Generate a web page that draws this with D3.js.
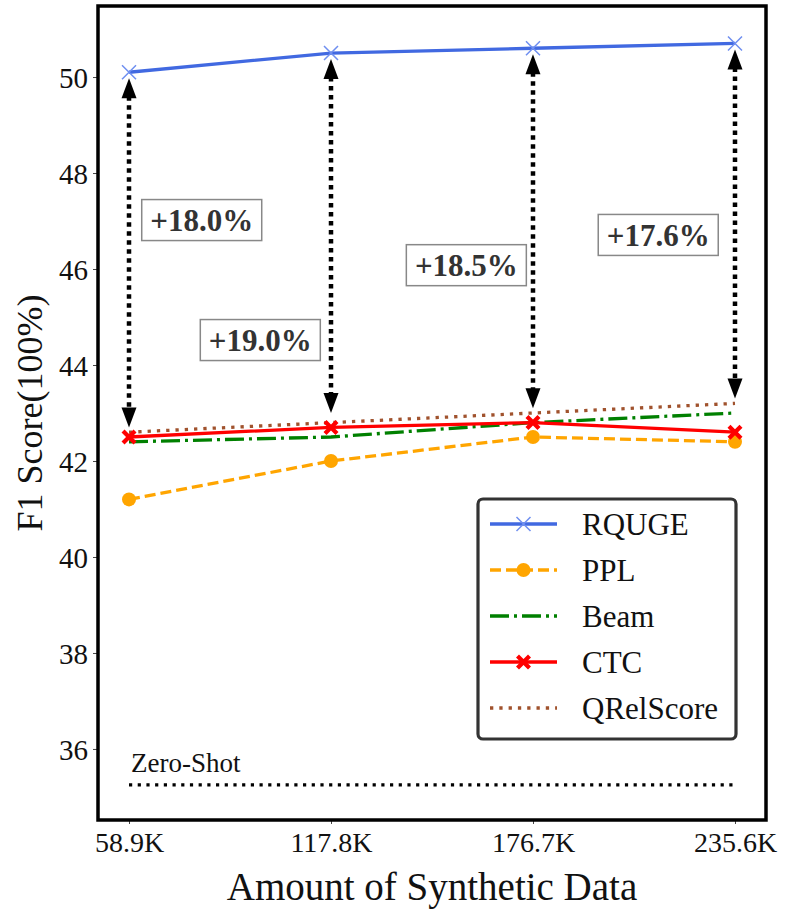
<!DOCTYPE html>
<html>
<head>
<meta charset="utf-8">
<script src="https://cdn.jsdelivr.net/npm/d3@7"></script>
<style>
  body { margin: 0; background: #fff; }
  text { font-family: "Liberation Serif", "Times New Roman", serif; }
</style>
</head>
<body>
<script>
// Data
var sizes = ["58.9K", "117.8K", "176.7K", "235.6K"];
var rquge = [50.1, 50.5, 50.6, 50.7];
var ppl = [41.2, 42.0, 42.5, 42.4];
var beam = [42.4, 42.5, 42.8, 43.0];
var ctc = [42.5, 42.7, 42.8, 42.6];
var qrel = [42.6, 42.8, 43.0, 43.2];
var zeroShot = 35.25;
var yTicks = [36, 38, 40, 42, 44, 46, 48, 50];
// arrow bottom tips and the gain labels
var arrowLow = [42.7, 43.0, 43.1, 43.3];
var gains = ["+18.0%", "+19.0%", "+18.5%", "+17.6%"];
var gainX = [0.36, 0.65, 1.67, 2.62];
var gainY = [47.02, 44.52, 46.08, 46.71];

var svgWidth = 789;
var svgHeight = 919;

var frame = { left: 98, right: 766, top: 6, bottom: 820 };

var svg = d3.select("body")
  .append("svg")
  .attr("width", svgWidth)
  .attr("height", svgHeight);

var x = d3.scaleLinear()
  .domain([-0.1535, 3.1535])
  .range([frame.left, frame.right]);

var y = d3.scaleLinear()
  .domain([34.52, 51.48])
  .range([frame.bottom, frame.top]);

// Axes
var xAxis = d3.axisBottom(x)
  .tickValues([0, 1, 2, 3])
  .tickFormat((d, i) => sizes[i])
  .tickSize(4)
  .tickPadding(6);

var yAxis = d3.axisLeft(y)
  .tickValues(yTicks)
  .tickSize(5)
  .tickPadding(5);

var gx = svg.append("g")
  .attr("transform", `translate(0, ${frame.bottom})`)
  .call(xAxis);
gx.select(".domain").remove();
gx.selectAll("line").attr("stroke", "#444").attr("stroke-width", 1);
gx.selectAll("text")
  .attr("fill", "#111")
  .style("font-size", "28px")
  .attr("dy", "0.78em");

var gy = svg.append("g")
  .attr("transform", `translate(${frame.left}, 0)`)
  .call(yAxis);
gy.select(".domain").remove();
gy.selectAll("line").attr("stroke", "#444").attr("stroke-width", 1);
gy.selectAll("text")
  .attr("fill", "#111")
  .style("font-size", "29px")
  .attr("dy", "0.36em");

// Zero-shot reference line
svg.append("line")
  .attr("x1", x(0)).attr("x2", x(3))
  .attr("y1", y(zeroShot)).attr("y2", y(zeroShot))
  .attr("stroke", "#000")
  .attr("stroke-width", 3.2)
  .attr("stroke-dasharray", "3.2,5.5");

svg.append("text")
  .attr("x", x(0) + 2)
  .attr("y", y(zeroShot) - 13)
  .style("font-size", "27px")
  .attr("fill", "#111")
  .text("Zero-Shot");

// Lines
var line = d3.line()
  .x((d, i) => x(i))
  .y(d => y(d));

function crossX(s) {
  // filled X marker like matplotlib's "X"
  var a = s * 0.2, b = s * 0.5;
  return `M${-b},${-b + a}L${-b + a},${-b}L0,${-a}L${b - a},${-b}L${b},${-b + a}L${a},0L${b},${b - a}L${b - a},${b}L0,${a}L${-b + a},${b}L${-b},${b - a}L${-a},0Z`;
}

var series = [
  { name: "RQUGE", values: rquge, color: "#4169e1", dash: null, marker: "x" },
  { name: "PPL", values: ppl, color: "#ffa500", dash: "11,5", marker: "o" },
  { name: "Beam", values: beam, color: "#008000", dash: "19,5,3,5", marker: null },
  { name: "CTC", values: ctc, color: "#ff0000", dash: null, marker: "X" },
  { name: "QRelScore", values: qrel, color: "#a0522d", dash: "3.3,6", marker: null }
];

var order = [4, 2, 1, 3, 0];
order.forEach(function(k) {
  var s = series[k];
  svg.append("path")
    .datum(s.values)
    .attr("d", line)
    .attr("fill", "none")
    .attr("stroke", s.color)
    .attr("stroke-width", 3.3)
    .attr("stroke-dasharray", s.dash);
  drawMarkers(svg, s, s.values.map((v, i) => [x(i), y(v)]));
});

function drawMarkers(g, s, pts) {
  pts.forEach(function(p) {
    if (s.marker === "x") {
      g.append("path")
        .attr("d", "M-7,-7L7,7M-7,7L7,-7")
        .attr("transform", `translate(${p[0]},${p[1]})`)
        .attr("stroke", "#6f8ff0")
        .attr("stroke-width", 1.5)
        .attr("fill", "none");
    } else if (s.marker === "o") {
      g.append("circle")
        .attr("cx", p[0]).attr("cy", p[1])
        .attr("r", 7)
        .attr("fill", s.color);
    } else if (s.marker === "X") {
      g.append("path")
        .attr("d", crossX(15))
        .attr("transform", `translate(${p[0]},${p[1]})`)
        .attr("fill", s.color);
    }
  });
}

// Double arrows between RQUGE and the baselines
var headLen = 20, headW = 7.5, shrink = 6;
rquge.forEach(function(v, i) {
  var cx = x(i);
  var yTop = y(v) + shrink;
  var yBot = y(arrowLow[i]);
  svg.append("line")
    .attr("x1", cx).attr("x2", cx)
    .attr("y1", yTop + headLen - 2).attr("y2", yBot - headLen + 2)
    .attr("stroke", "#000")
    .attr("stroke-width", 4.5)
    .attr("stroke-dasharray", "4.5,4.5");
  svg.append("path")
    .attr("d", `M${cx},${yTop}L${cx - headW},${yTop + headLen}L${cx + headW},${yTop + headLen}Z`)
    .attr("fill", "#000");
  svg.append("path")
    .attr("d", `M${cx},${yBot}L${cx - headW},${yBot - headLen}L${cx + headW},${yBot - headLen}Z`)
    .attr("fill", "#000");
});

// Gain labels
gains.forEach(function(t, i) {
  var g = svg.append("g")
    .attr("transform", `translate(${x(gainX[i])}, ${y(gainY[i])})`);
  g.append("rect")
    .attr("x", -60).attr("y", -20.5)
    .attr("width", 120).attr("height", 41)
    .attr("fill", "#fff")
    .attr("stroke", "#888")
    .attr("stroke-width", 1.5);
  g.append("text")
    .attr("text-anchor", "middle")
    .attr("dy", "0.36em")
    .style("font-size", "31px")
    .style("font-weight", "bold")
    .attr("fill", "#333")
    .text(t);
});

// Frame
svg.append("rect")
  .attr("x", frame.left).attr("y", frame.top)
  .attr("width", frame.right - frame.left)
  .attr("height", frame.bottom - frame.top)
  .attr("fill", "none")
  .attr("stroke", "#000")
  .attr("stroke-width", 3.5);

// Legend
var legend = svg.append("g")
  .attr("transform", "translate(478, 499)");

legend.append("rect")
  .attr("width", 258).attr("height", 240)
  .attr("rx", 5)
  .attr("fill", "#fff")
  .attr("stroke", "#333")
  .attr("stroke-width", 3.2);

series.forEach(function(s, i) {
  var ly = 25 + i * 46;
  legend.append("line")
    .attr("x1", 12).attr("x2", 79)
    .attr("y1", ly).attr("y2", ly)
    .attr("stroke", s.color)
    .attr("stroke-width", 3.3)
    .attr("stroke-dasharray", s.dash);
  drawMarkers(legend, s, [[45.5, ly]]);
  legend.append("text")
    .attr("x", 104)
    .attr("y", ly)
    .attr("dy", "0.35em")
    .style("font-size", "31px")
    .attr("fill", "#111")
    .text(s.name);
});

// Axis labels
svg.append("text")
  .attr("transform", `translate(42, ${(frame.top + frame.bottom) / 2}) rotate(-90)`)
  .attr("text-anchor", "middle")
  .style("font-size", "36px")
  .attr("fill", "#111")
  .text("F1 Score(100%)");

svg.append("text")
  .attr("x", (frame.left + frame.right) / 2)
  .attr("y", 900)
  .attr("text-anchor", "middle")
  .style("font-size", "39px")
  .attr("fill", "#111")
  .text("Amount of Synthetic Data");
</script>
</body>
</html>
